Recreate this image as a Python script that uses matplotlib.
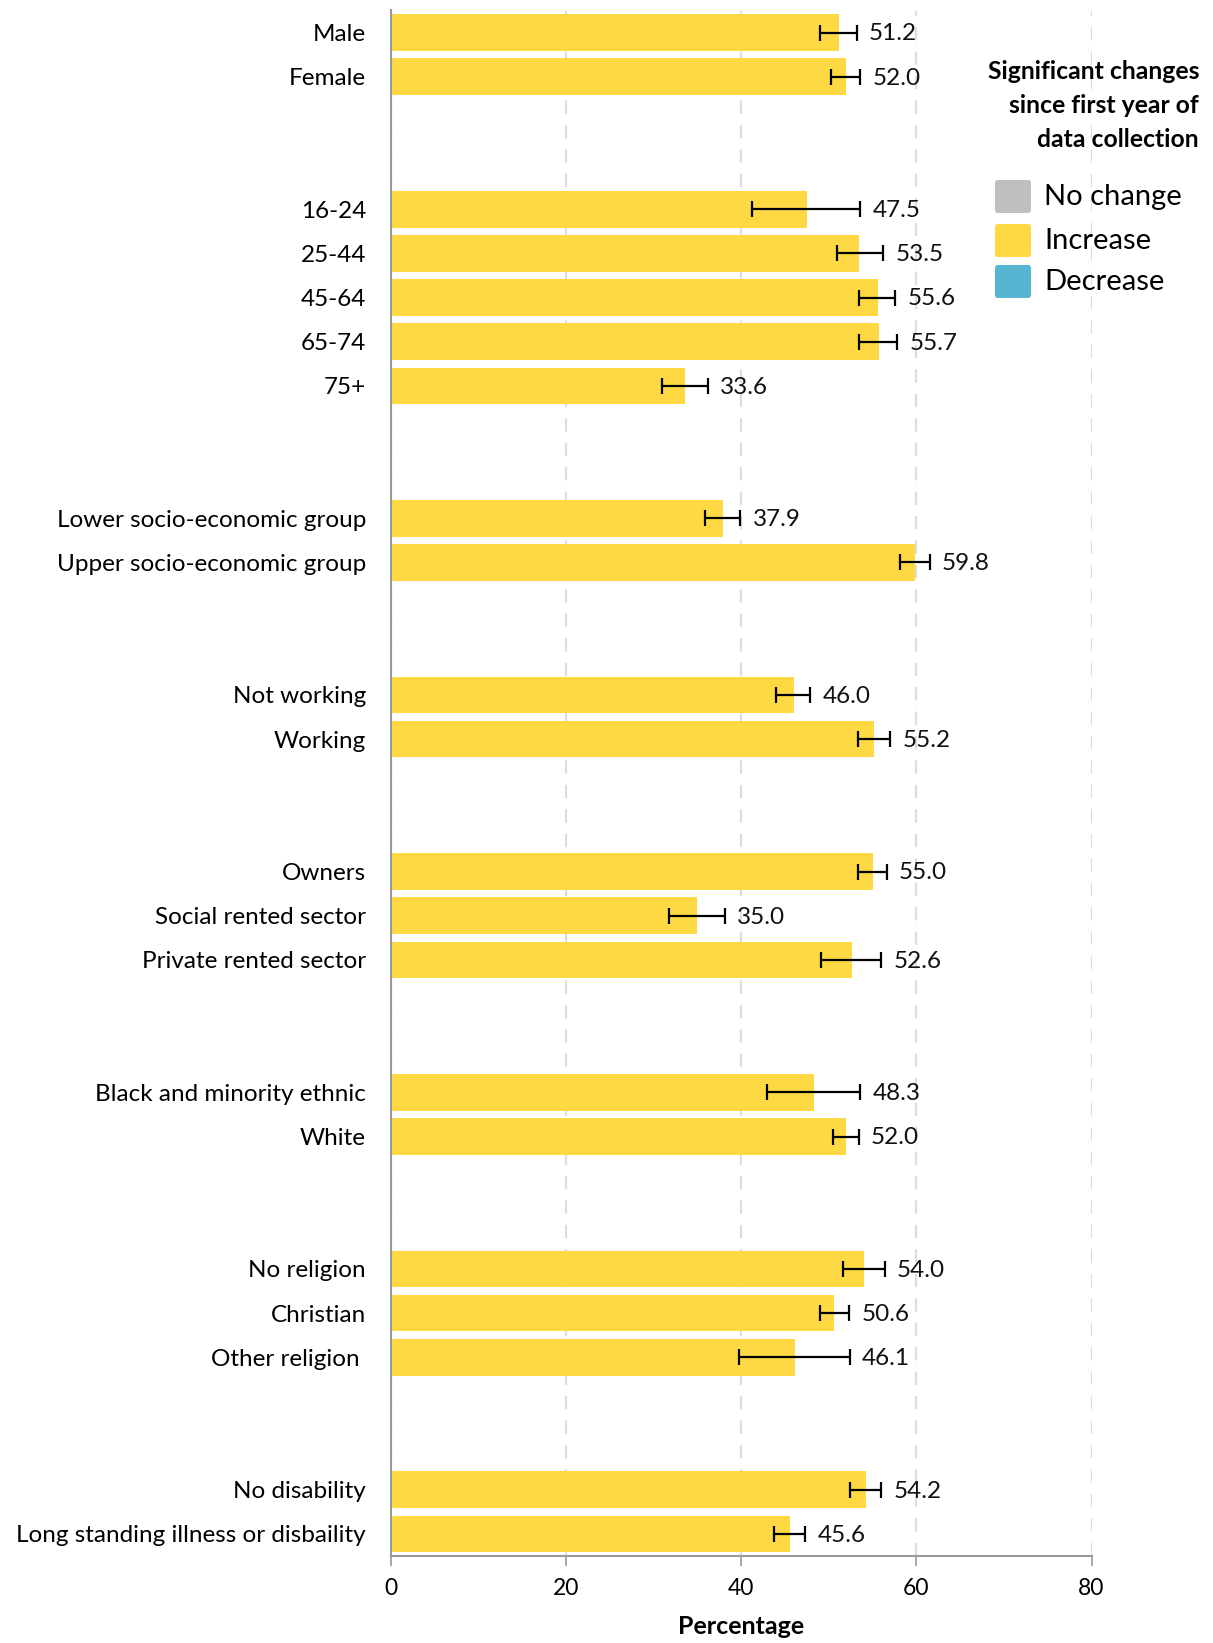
import matplotlib
matplotlib.use("Agg")
import matplotlib.pyplot as plt
from matplotlib.patches import FancyBboxPatch
import numpy as np

plt.rcParams['font.family'] = ['Lato', 'DejaVu Sans']

# ---- data ----
groups = [
    ["Male", "Female"],
    ["16-24", "25-44", "45-64", "65-74", "75+"],
    ["Lower socio-economic group", "Upper socio-economic group"],
    ["Not working", "Working"],
    ["Owners", "Social rented sector", "Private rented sector"],
    ["Black and minority ethnic", "White"],
    ["No religion", "Christian", "Other religion "],
    ["No disability", "Long standing illness or disbaility"],
]
values = [51.2, 52.0, 47.5, 53.5, 55.6, 55.7, 33.6, 37.9, 59.8, 46.0, 55.2,
          55.0, 35.0, 52.6, 48.3, 52.0, 54.0, 50.6, 46.1, 54.2, 45.6]
ci_low = [49.0, 50.3, 41.2, 50.9, 53.4, 53.4, 30.9, 35.9, 58.1, 44.0, 53.3,
          53.3, 31.8, 49.1, 42.9, 50.5, 51.6, 49.0, 39.7, 52.4, 43.7]
ci_high = [53.2, 53.6, 53.6, 56.2, 57.6, 57.8, 36.2, 39.9, 61.5, 47.9, 57.0,
           56.6, 38.1, 56.0, 53.6, 53.4, 56.4, 52.3, 52.4, 56.0, 47.3]
change = ["Increase"] * len(values)
x_ticks = [0, 20, 40, 60, 80]
legend_labels = ["No change", "Increase", "Decrease"]
legend_colors = ["#BFBFBF", "#FFD943", "#56B6D1"]
color_map = dict(zip(legend_labels, legend_colors))

# ---- positions (2 blank slots between groups) ----
labels, ypos = [], []
slot = 0
for gi, g in enumerate(groups):
    for name in g:
        labels.append(name)
        ypos.append(slot)
        slot += 1
    slot += 2
ypos = np.array(ypos)
vals = np.array(values)
lo = np.array(ci_low)
hi = np.array(ci_high)

W, H = 1213, 1643
fig = plt.figure(figsize=(W / 100, H / 100), dpi=100)
ax = fig.add_axes([391 / W, 1 - 1556 / H, (1091.5 - 391) / W, (1556 - 10.5) / H])

ax.barh(ypos, vals, height=0.83, color=[color_map[c] for c in change], zorder=2)
ax.errorbar(vals, ypos, xerr=[vals - lo, hi - vals], fmt='none', ecolor='black',
            elinewidth=1.6, capsize=6, capthick=1.6, zorder=3)
for y, h, v in zip(ypos, hi, vals):
    ax.text(h + 1.4, y + 0.03, f"{v:.1f}", va='center', ha='left', fontsize=17.5, color='#111111')

ax.set_xlim(0, 80)
ax.set_ylim(ypos[-1] + 0.5, -0.5)
ax.set_yticks(ypos)
ax.set_yticklabels(labels, fontsize=17.5)
ax.tick_params(axis='y', length=0, pad=18)
ax.set_xticks(x_ticks)
ax.set_xticklabels([str(t) for t in x_ticks], fontsize=16.5)
ax.tick_params(axis='x', length=7, color='#999999', width=1.2, pad=9)
ax.xaxis.grid(True, linestyle=(0, (6, 5)), color='#DDDDDD', linewidth=1.6, zorder=0)
ax.set_axisbelow(True)
for s in ['top', 'right']:
    ax.spines[s].set_visible(False)
for s in ['left', 'bottom']:
    ax.spines[s].set_color('#999999')
    ax.spines[s].set_linewidth(1.5)
ax.set_xlabel("Percentage", fontsize=18, fontweight='bold', labelpad=11)

# ---- legend ----
fig.text(1199 / W, 1 - 60 / H, "Significant changes\nsince first year of\ndata collection",
         ha='right', va='top', fontsize=17.8, fontweight='bold', linespacing=1.58)
leg_y = [196, 240, 281]
for lab, col, yc in zip(legend_labels, legend_colors, leg_y):
    p = FancyBboxPatch((995 / W, 1 - (yc + 17) / H), 36 / W, 33 / H,
                       boxstyle="round,pad=0,rounding_size=0.002",
                       transform=fig.transFigure, facecolor=col, edgecolor='none')
    fig.patches.append(p)
    fig.text(1044 / W, 1 - (yc + 1) / H, lab, ha='left', va='center', fontsize=21)

fig.savefig("out.png", dpi=100)
